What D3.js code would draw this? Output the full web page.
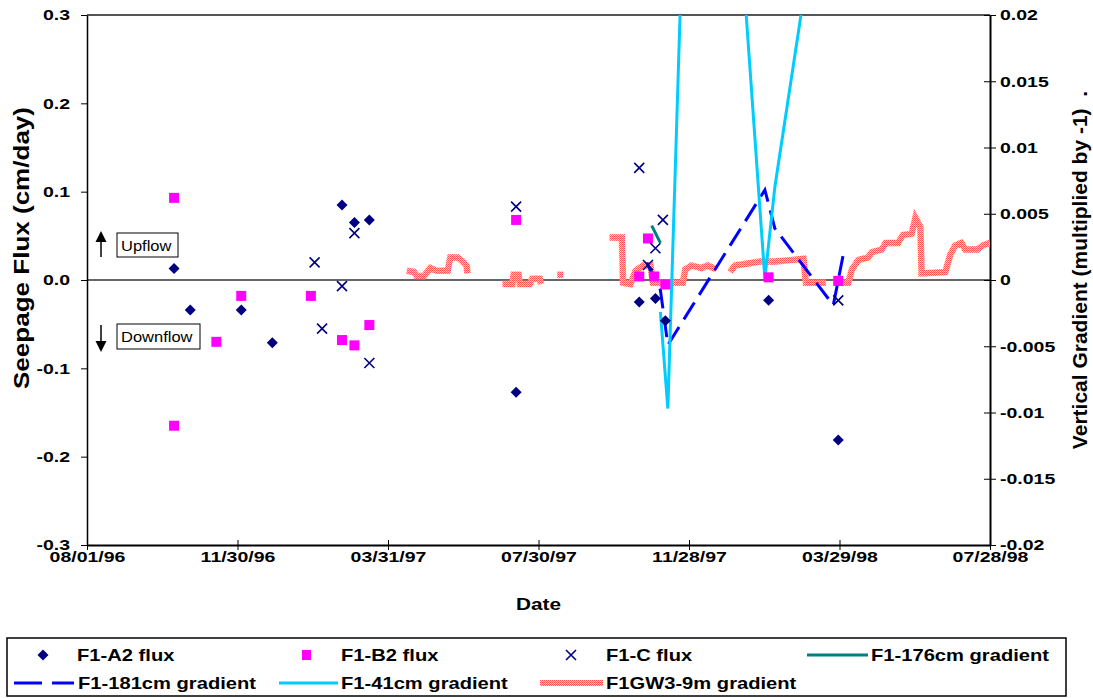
<!DOCTYPE html>
<html><head><meta charset="utf-8">
<script src="https://cdn.jsdelivr.net/npm/d3@7"></script>
<style>
body{margin:0;background:#fff;}
text{font-family:"Liberation Sans",Arial,sans-serif;fill:#000;}
</style>
</head><body>
<svg id="chart" width="1093" height="698"></svg>
<script>
// ---------- data ----------
const xTickLabels = ["08/01/96","11/30/96","03/31/97","07/30/97","11/28/97","03/29/98","07/28/98"];
const leftTickValues = [-0.3,-0.2,-0.1,0,0.1,0.2,0.3];
const leftTickLabels = ["-0.3","-0.2","-0.1","0.0","0.1","0.2","0.3"];
const rightTickValues = [-0.02,-0.015,-0.01,-0.005,0,0.005,0.01,0.015,0.02];
const rightTickLabels = ["-0.02","-0.015","-0.01","-0.005","0","0.005","0.01","0.015","0.02"];

const a2Dates = ["10/10/96","10/23/96","12/03/96","12/28/96","02/22/97","03/04/97","03/16/97","07/12/97","10/19/97","11/01/97","11/09/97","01/31/98","03/28/98"];
const a2Flux  = [0.013,-0.034,-0.034,-0.071,0.085,0.065,0.068,-0.127,-0.025,-0.021,-0.046,-0.023,-0.181];

const b2Dates = ["10/10/96","10/10/96","11/13/96","12/03/96","01/28/97","02/22/97","03/04/97","03/16/97","07/12/97","10/19/97","10/26/97","10/31/97","11/09/97","01/31/98","03/28/98"];
const b2Flux  = [0.093,-0.165,-0.070,-0.018,-0.018,-0.068,-0.074,-0.051,0.068,0.004,0.047,0.004,-0.005,0.003,-0.001];

const cDates = ["01/31/97","02/06/97","02/22/97","03/04/97","03/16/97","07/12/97","10/19/97","10/26/97","11/01/97","11/07/97","03/28/98"];
const cFlux  = [0.020,-0.055,-0.007,0.053,-0.094,0.083,0.127,0.017,0.036,0.068,-0.023];

const g176Dates = ["10/29/97","11/05/97"];
const g176      = [0.0041,0.0028];

const g181Dates = ["10/25/97","11/05/97","11/11/97","01/28/98","02/05/98","03/24/98","04/01/98"];
const g181      = [0.0013,-0.00075,-0.0049,0.0068,0.0039,-0.0019,0.0019];

const g41Dates = ["11/05/97","11/11/97","12/07/97","01/28/98","02/05/98","04/01/98"];
const g41      = [-0.0024,-0.0097,0.069,0.0001,0.0070,0.041];

const gw3Dates = ["04/15/97","04/21/97","04/23/97","04/29/97","05/04/97","05/09/97","05/18/97","05/20/97","05/26/97","05/30/97","06/02/97","06/03/97",
  "06/15/97",
  "07/01/97","07/09/97","07/10/97","07/14/97","07/15/97","07/23/97","07/25/97","07/31/97","08/01/97",
  "08/07/97",
  "08/14/97","08/19/97",
  "09/01/97",
  "09/25/97","10/05/97","10/06/97","10/12/97","10/16/97","10/22/97","10/28/97","10/30/97","11/23/97","11/25/97","11/30/97","12/08/97","12/13/97","12/20/97",
  "12/25/97",
  "12/31/97","01/04/98","01/18/98","01/24/98","02/05/98","02/17/98","02/28/98","03/02/98","03/18/98",
  "03/21/98",
  "03/24/98","04/05/98","04/08/98","04/13/98","04/21/98","04/24/98","05/02/98","05/05/98","05/15/98","05/19/98","05/26/98","05/29/98","06/02/98","06/03/98","06/22/98","06/26/98","06/30/98","07/05/98","07/08/98","07/18/98","07/22/98","07/28/98"];
const gw3 = [0.0007,0.0006,0.0003,0.0003,0.0009,0.0007,0.0007,0.0017,0.0017,0.0014,0.0011,0.0005,
  null,
  -0.0003,-0.0003,0.0004,0.0004,-0.0003,-0.0003,0.0001,0.0001,-0.0003,
  null,
  0.0004,0.0004,
  null,
  0.0032,0.0032,-0.0002,-0.0003,0.0007,0.0011,0.0011,-0.0002,-0.0002,0.0008,0.0011,0.0009,0.0011,0.0008,
  null,
  0.0006,0.0011,0.0013,0.0014,0.0014,0.0015,0.0016,-0.0002,-0.0002,
  null,
  -0.0002,-0.0002,0.0008,0.0015,0.0017,0.0021,0.0023,0.0028,0.0028,0.0034,0.0035,0.0047,0.0040,0.0005,0.0006,0.0019,0.0026,0.0028,0.0023,0.0023,0.0026,0.0028];

const seriesNames = ["F1-A2 flux","F1-B2 flux","F1-C flux","F1-176cm gradient","F1-181cm gradient","F1-41cm gradient","F1GW3-9m gradient"];

// ---------- setup ----------
const parse = d3.timeParse("%m/%d/%y");
const fmt = d3.timeFormat("%m/%d/%y");
const svg = d3.select("#chart");
const L = 87, R = 990, T = 15, B = 545;
const SX = 1.3; // horizontal glyph stretch of the original

const x = d3.scaleTime().domain([parse(xTickLabels[0]), parse(xTickLabels[xTickLabels.length-1])]).range([L, R]);
const yL = d3.scaleLinear().domain([-0.3, 0.3]).range([B, T]);
const yR = d3.scaleLinear().domain([-0.02, 0.02]).range([B, T]);

const defs = svg.append("defs");
defs.append("clipPath").attr("id","plotclip").append("rect").attr("x",L).attr("y",T).attr("width",R-L).attr("height",B-T);
const pat = defs.append("pattern").attr("id","redtex").attr("patternUnits","userSpaceOnUse").attr("width",2).attr("height",2);
pat.append("rect").attr("width",2).attr("height",2).attr("fill","#ffc4c4");
pat.append("rect").attr("x",0).attr("y",0).attr("width",1).attr("height",1).attr("fill","#ff5050");
pat.append("rect").attr("x",1).attr("y",1).attr("width",1).attr("height",1).attr("fill","#ff6a6a");

// frame lines
svg.append("line").attr("x1",L).attr("x2",R).attr("y1",T).attr("y2",T).attr("stroke","#555").attr("stroke-width",2);
svg.append("line").attr("x1",L).attr("x2",R).attr("y1",yL(0)).attr("y2",yL(0)).attr("stroke","#666").attr("stroke-width",2);

// axes
const gL = svg.append("g").attr("transform",`translate(${L},0)`)
  .call(d3.axisLeft(yL).tickValues(leftTickValues).tickFormat((d,i)=>leftTickLabels[i]).tickSizeInner(6).tickSizeOuter(0));
gL.select(".domain").attr("stroke","#000").attr("stroke-width",1.5);
gL.selectAll(".tick line").attr("stroke","#000");
gL.selectAll(".tick text").attr("x",-17/SX).attr("transform",`scale(${SX},1)`)
  .style("font-size","15px").style("font-weight","bold").style("font-family","Liberation Sans, Arial, sans-serif");

const gR = svg.append("g").attr("transform",`translate(${R},0)`)
  .call(d3.axisRight(yR).tickValues(rightTickValues).tickFormat((d,i)=>rightTickLabels[i]).tickSizeInner(6).tickSizeOuter(0));
gR.select(".domain").attr("stroke","#000").attr("stroke-width",2);
gR.selectAll(".tick line").attr("x1",-6).attr("x2",6).attr("stroke","#000");
gR.selectAll(".tick text").attr("x",10/SX).attr("transform",`scale(${SX},1)`)
  .style("font-size","15px").style("font-weight","bold").style("font-family","Liberation Sans, Arial, sans-serif");

const gB = svg.append("g").attr("transform",`translate(0,${B})`)
  .call(d3.axisBottom(x).tickValues(xTickLabels.map(parse)).tickFormat(fmt).tickSizeInner(5).tickSizeOuter(0));
gB.select(".domain").attr("stroke","#000").attr("stroke-width",2);
gB.selectAll(".tick line").attr("y1",-5).attr("y2",5).attr("stroke","#000");
gB.selectAll(".tick text").attr("y",6).attr("transform",`scale(${SX},1)`)
  .style("font-size","15px").style("font-weight","bold").style("font-family","Liberation Sans, Arial, sans-serif");

// axis titles
svg.append("text").attr("transform","translate(29,248) rotate(-90)").attr("text-anchor","middle")
  .attr("textLength",282).attr("lengthAdjust","spacingAndGlyphs")
  .style("font-size","22px").style("font-weight","bold").text("Seepage Flux (cm/day)");
svg.append("text").attr("transform","translate(1087,270) rotate(-90)").attr("text-anchor","middle")
  .style("font-size","21px").style("font-weight","bold").style("white-space","pre").text("Vertical Gradient (multiplied by -1)  .");
svg.append("text").attr("transform",`translate(${(L+R)/2},610) scale(${SX},1)`).attr("text-anchor","middle")
  .style("font-size","16px").style("font-weight","bold").text("Date");

// Upflow / Downflow annotations
function arrow(xc, yTail, yTip){
  const dir = yTip < yTail ? 1 : -1;
  svg.append("line").attr("x1",xc).attr("x2",xc).attr("y1",yTail).attr("y2",yTip+dir*9).attr("stroke","#000").attr("stroke-width",1.5);
  svg.append("path").attr("d",`M${xc},${yTip}L${xc-5.5},${yTip+dir*11}L${xc+5.5},${yTip+dir*11}Z`).attr("fill","#000");
}
arrow(101, 257, 231);
arrow(101, 325, 352);
svg.append("rect").attr("x",117).attr("y",233).attr("width",61).attr("height",24).attr("fill","#fff").attr("stroke","#000");
svg.append("text").attr("transform",`translate(121,251) scale(1.1,1)`).style("font-size","15px").text("Upflow");
svg.append("rect").attr("x",117).attr("y",324).attr("width",83).attr("height",25).attr("fill","#fff").attr("stroke","#000");
svg.append("text").attr("transform",`translate(121,342) scale(1.1,1)`).style("font-size","15px").text("Downflow");

// ---------- series ----------
const plot = svg.append("g").attr("clip-path","url(#plotclip)");
const zip = (ds, vs) => ds.map((d,i)=>({date:parse(d), v:vs[i]}));

const lineR = d3.line().defined(d=>d.v!==null).x(d=>x(d.date)).y(d=>yR(d.v));

plot.append("path").datum(zip(gw3Dates,gw3)).attr("d",lineR)
  .attr("fill","none").attr("stroke","url(#redtex)").attr("stroke-width",6.5).attr("stroke-linejoin","miter");
plot.append("path").datum(zip(g181Dates,g181)).attr("d",lineR)
  .attr("fill","none").attr("stroke","#0000ff").attr("stroke-width",3).attr("stroke-dasharray","20,9");
plot.append("path").datum(zip(g41Dates,g41)).attr("d",lineR)
  .attr("fill","none").attr("stroke","#00ccff").attr("stroke-width",3);
plot.append("path").datum(zip(g176Dates,g176)).attr("d",lineR)
  .attr("fill","none").attr("stroke","#008080").attr("stroke-width",3);

const diamond = "M0,-5.5L5.5,0L0,5.5L-5.5,0Z";
plot.selectAll(".a2").data(zip(a2Dates,a2Flux)).join("path").attr("class","a2")
  .attr("d",diamond).attr("transform",d=>`translate(${x(d.date)},${yL(d.v)})`).attr("fill","#000080");
plot.selectAll(".b2").data(zip(b2Dates,b2Flux)).join("rect").attr("class","b2")
  .attr("x",d=>x(d.date)-5).attr("y",d=>yL(d.v)-5).attr("width",10).attr("height",10).attr("fill","#ff00ff");
const cg = plot.selectAll(".cf").data(zip(cDates,cFlux)).join("g").attr("class","cf")
  .attr("transform",d=>`translate(${x(d.date)},${yL(d.v)})`);
cg.append("path").attr("d","M-5,-5L5,5M-5,5L5,-5").attr("stroke","#000080").attr("stroke-width",1.6).attr("fill","none");

// ---------- legend ----------
const lg = svg.append("g");
lg.append("rect").attr("x",7).attr("y",638).attr("width",1059).attr("height",58).attr("fill","#fff").attr("stroke","#000").attr("stroke-width",1.5);
const r1 = 655, r2 = 683;
lg.append("path").attr("d",diamond).attr("transform",`translate(43,${r1})`).attr("fill","#000080");
lg.append("rect").attr("x",302).attr("y",r1-5).attr("width",9).attr("height",10).attr("fill","#ff00ff");
lg.append("path").attr("d",`M566,${r1-5}L576,${r1+5}M566,${r1+5}L576,${r1-5}`).attr("stroke","#000080").attr("stroke-width",1.6);
lg.append("line").attr("x1",807).attr("x2",868).attr("y1",r1).attr("y2",r1).attr("stroke","#008080").attr("stroke-width",3);
lg.append("line").attr("x1",14).attr("x2",74).attr("y1",r2).attr("y2",r2).attr("stroke","#0000ff").attr("stroke-width",3).attr("stroke-dasharray","28,10");
lg.append("line").attr("x1",279).attr("x2",338).attr("y1",r2).attr("y2",r2).attr("stroke","#00ccff").attr("stroke-width",3);
lg.append("rect").attr("x",540).attr("y",r2-3).attr("width",63).attr("height",6).attr("fill","url(#redtex)");
const legendPos = [[77,r1],[341,r1],[606,r1],[871,r1],[78,r2],[341,r2],[606,r2]];
seriesNames.forEach((n,i)=>{
  lg.append("text").attr("transform",`translate(${legendPos[i][0]},${legendPos[i][1]+6}) scale(1.26,1)`)
    .style("font-size","16px").style("font-weight","bold").text(n);
});
</script>
</body></html>
